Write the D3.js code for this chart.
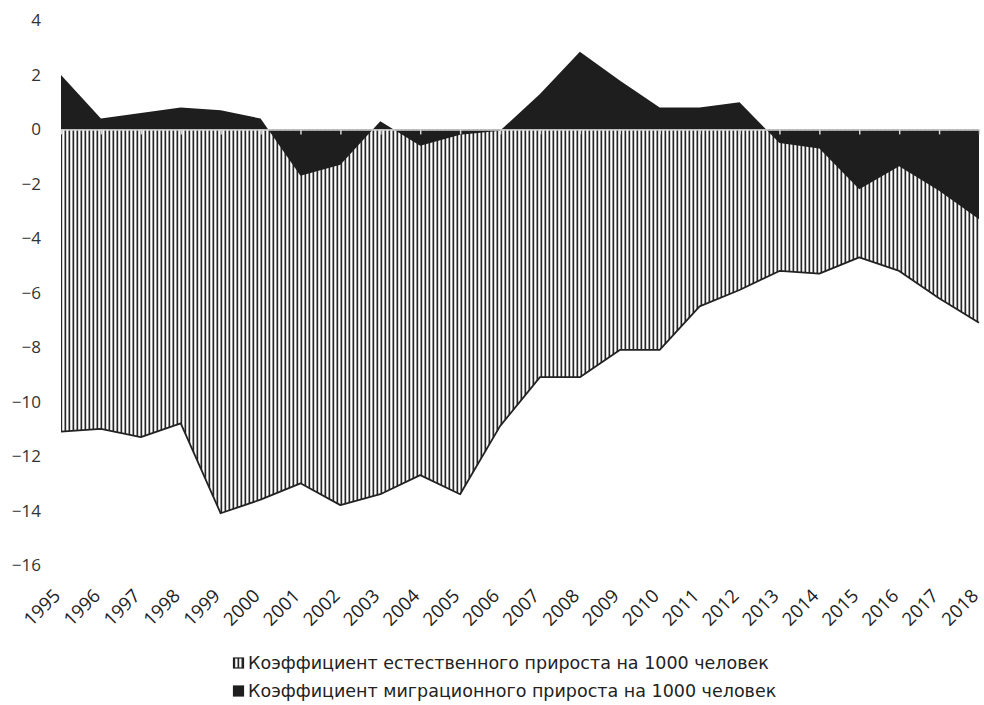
<!DOCTYPE html>
<html>
<head>
<meta charset="utf-8">
<script src="https://cdn.jsdelivr.net/npm/d3@7"></script>
<style>
  body { margin: 0; background: #fff; }
  svg { display: block; }
</style>
</head>
<body>
<svg id="chart" width="984" height="705"></svg>
<script>
const years = ['1995', '1996', '1997', '1998', '1999', '2000', '2001', '2002', '2003', '2004', '2005', '2006',
  '2007', '2008', '2009', '2010', '2011', '2012', '2013', '2014', '2015', '2016', '2017', '2018'];
const natural = [-11.1, -11.0, -11.3, -10.8, -14.1, -13.6, -13.0, -13.8, -13.4, -12.7, -13.4, -10.9,
  -9.1, -9.1, -8.1, -8.1, -6.5, -5.9, -5.2, -5.3, -4.7, -5.2, -6.2, -7.1];
const migration = [2.0, 0.4, 0.6, 0.8, 0.7, 0.4, -1.7, -1.3, 0.3, -0.6, -0.2, -0.05,
  1.3, 2.85, 1.8, 0.8, 0.8, 1.0, -0.5, -0.7, -2.2, -1.35, -2.25, -3.3];
const yTicks = [4, 2, 0, -2, -4, -6, -8, -10, -12, -14, -16];
const legendLabels = [
  'Коэффициент естественного прироста на 1000 человек',
  'Коэффициент миграционного прироста на 1000 человек'
];

const ink = '#1e1e1e';

const svg = d3.select('#chart');

const x = d3.scalePoint().domain(years).range([61, 979]);
const y = d3.scaleLinear().domain([-16, 4]).range([565, 20.5]);

// vertical hatch
const defs = svg.append('defs');
const pat = defs.append('pattern')
  .attr('id', 'hatch')
  .attr('patternUnits', 'userSpaceOnUse')
  .attr('width', 4)
  .attr('height', 10);
pat.append('rect').attr('width', 4).attr('height', 10).attr('fill', '#fff');
pat.append('rect').attr('x', 0.5).attr('width', 1.7).attr('height', 10).attr('fill', '#262626');

const area = d3.area()
  .x((d, i) => x(years[i]))
  .y0(y(0))
  .y1(d => y(d));

svg.append('path')
  .datum(natural)
  .attr('fill', 'url(#hatch)')
  .attr('d', area);

svg.append('path')
  .datum(natural)
  .attr('fill', 'none')
  .attr('stroke', '#222')
  .attr('stroke-width', 1.8)
  .attr('stroke-linejoin', 'round')
  .attr('d', d3.line().x((d, i) => x(years[i])).y(d => y(d)));

svg.append('path')
  .datum(migration)
  .attr('fill', ink)
  .attr('d', area);

// zero axis with ticks
svg.append('g')
  .attr('transform', `translate(0,${y(0)})`)
  .call(d3.axisBottom(x).tickSize(5).tickSizeOuter(0).tickFormat(''))
  .call(g => g.select('.domain').attr('stroke', '#d4d4d4').attr('stroke-width', 1.5))
  .call(g => g.selectAll('.tick line').attr('stroke', '#d4d4d4').attr('stroke-width', 1.5));

// y labels
svg.append('g')
  .selectAll('text')
  .data(yTicks)
  .join('text')
  .attr('x', 41)
  .attr('y', d => y(d))
  .attr('dy', '0.35em')
  .attr('text-anchor', 'end')
  .attr('font-family', '"Open Sans", sans-serif')
  .attr('font-size', 17)
  .attr('fill', '#333')
  .text(d => d < 0 ? '\u2212' + Math.abs(d) : d);

// x labels at the bottom, rotated
svg.append('g')
  .selectAll('text')
  .data(years)
  .join('text')
  .attr('transform', d => `translate(${x(d) + 0.5},${597}) rotate(-45)`)
  .attr('text-anchor', 'end')
  .attr('font-family', '"Open Sans", sans-serif')
  .attr('font-size', 18.5)
  .attr('fill', '#222')
  .text(d => d);

// legend
const legend = svg.append('g')
  .attr('font-family', '"DejaVu Sans", sans-serif')
  .attr('font-size', 17.5)
  .attr('fill', '#222');

const rows = legend.selectAll('g')
  .data(legendLabels)
  .join('g')
  .attr('transform', (d, i) => `translate(233,${663 + i * 28})`);

rows.append('rect')
  .attr('x', 0.5)
  .attr('y', -5)
  .attr('width', 10)
  .attr('height', 10)
  .attr('fill', (d, i) => i === 0 ? 'url(#hatch)' : ink)
  .attr('stroke', ink)
  .attr('stroke-width', 1.2);

rows.append('text')
  .attr('x', 15)
  .attr('dy', '0.35em')
  .text(d => d);
</script>
</body>
</html>
